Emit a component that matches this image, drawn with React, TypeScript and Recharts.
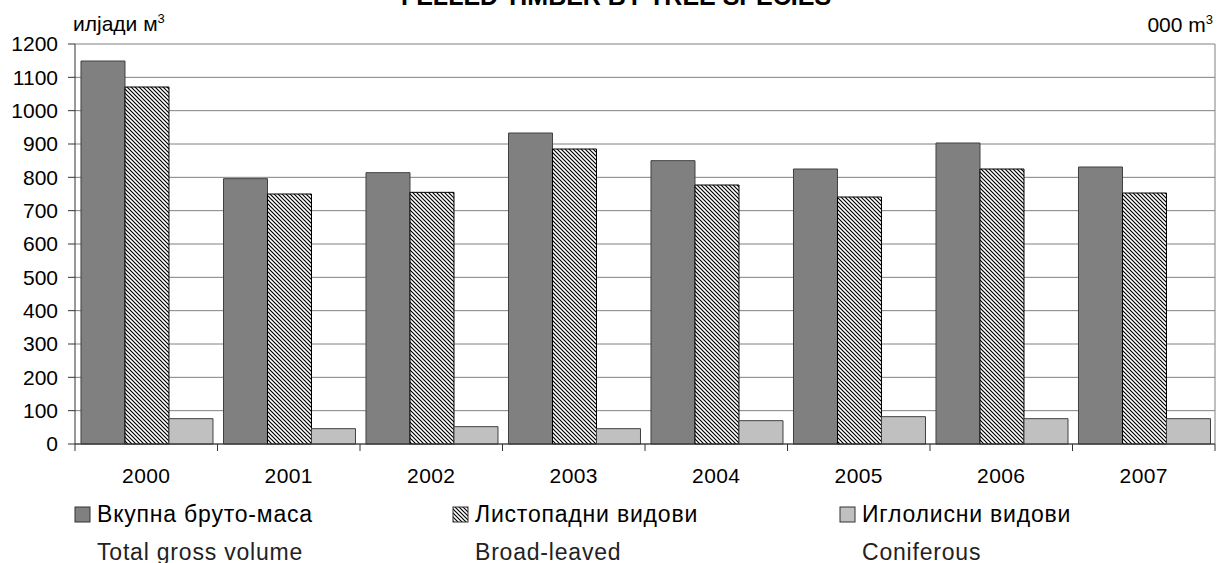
import React from 'react';
import { BarChart, Bar, XAxis, YAxis, CartesianGrid } from 'recharts';

const years = ['2000', '2001', '2002', '2003', '2004', '2005', '2006', '2007'];
const totalGross = [1149, 796, 814, 933, 850, 825, 903, 831];
const broadLeaved = [1071, 750, 755, 885, 777, 741, 825, 753];
const coniferous = [76, 46, 52, 46, 70, 82, 76, 76];
const yTicks = [0, 100, 200, 300, 400, 500, 600, 700, 800, 900, 1000, 1100, 1200];
const legendMk = ['Вкупна бруто-маса', 'Листопадни видови', 'Иглолисни видови'];
const legendEn = ['Total gross volume', 'Broad-leaved', 'Coniferous'];
const title = 'FELLED TIMBER BY TREE SPECIES';
const unitMk = 'илјади м';
const unitEn = '000 m';

const data = years.map((y, i) => ({
  year: y,
  total: totalGross[i],
  broad: broadLeaved[i],
  conif: coniferous[i],
}));

const W = 1219;
const H = 563;
const ML = 75;
const MR = 4;
const MT = 44;
const XH = 40;
const MB = 563 - 444 - XH;
const FONT = '"Liberation Sans", Arial, Helvetica, sans-serif';
const band = (W - ML - MR) / years.length;

const XTick = (props: any) => {
  const { x, y, payload, index } = props;
  const last = index === years.length - 1;
  return (
    <g>
      <line x1={x - band / 2} x2={x - band / 2} y1={y} y2={y + 7} stroke="#333" strokeWidth={1} />
      {last && <line x1={x + band / 2} x2={x + band / 2} y1={y} y2={y + 7} stroke="#333" strokeWidth={1} />}
      <text x={x} y={y + 39} textAnchor="middle" fontSize={21} fill="#000" fontFamily={FONT} letterSpacing={0.4}>
        {payload.value}
      </text>
    </g>
  );
};

const fills = ['#808080', 'url(#hatchLegend)', '#c0c0c0'];
const squareX = [75, 453, 840];

export default function App() {
  return (
    <div style={{ position: 'absolute', left: 0, top: 0, width: W, height: H, fontFamily: FONT }}>
      <BarChart
        width={W}
        height={H}
        data={data}
        margin={{ top: MT, right: MR, left: 0, bottom: MB }}
        barCategoryGap="4.2%"
        barGap={0}
      >
        <defs>
          <pattern id="hatch" patternUnits="userSpaceOnUse" width={4} height={4}>
            <rect x={0} y={0} width={4} height={4} fill="#fff" />
            <path d="M-1,-1 L5,5 M-1,3 L1,5 M3,-1 L5,1" stroke="#000" strokeWidth={1.2} />
          </pattern>
        </defs>
        <CartesianGrid
          stroke="#808080"
          strokeWidth={1}
          vertical={true}
          verticalCoordinatesGenerator={(p: any) => [p.offset.left + p.offset.width]}
        />
        <XAxis
          dataKey="year"
          height={XH}
          tickSize={0}
          tickMargin={0}
          tickLine={false}
          axisLine={{ stroke: '#333' }}
          tick={<XTick />}
          interval={0}
        />
        <YAxis
          width={ML}
          domain={[0, 1200]}
          ticks={yTicks}
          interval={0}
          tickSize={7}
          tickMargin={10}
          axisLine={{ stroke: '#333' }}
          tickLine={{ stroke: '#333' }}
          tick={{ fill: '#000', fontSize: 21, fontFamily: FONT }}
        />
        <Bar dataKey="total" fill="#808080" stroke="#404040" strokeWidth={1} isAnimationActive={false} />
        <Bar dataKey="broad" fill="url(#hatch)" stroke="#000" strokeWidth={1} isAnimationActive={false} />
        <Bar dataKey="conif" fill="#c0c0c0" stroke="#404040" strokeWidth={1} isAnimationActive={false} />
      </BarChart>
      <svg
        width={W}
        height={H}
        style={{ position: 'absolute', left: 0, top: 0, pointerEvents: 'none' }}
        fontFamily={FONT}
      >
        <defs>
          <pattern id="hatchLegend" patternUnits="userSpaceOnUse" width={4} height={4}>
            <rect x={0} y={0} width={4} height={4} fill="#fff" />
            <path d="M-1,-1 L5,5 M-1,3 L1,5 M3,-1 L5,1" stroke="#000" strokeWidth={1.2} />
          </pattern>
        </defs>
        <text x={616} y={5} textAnchor="middle" fontSize={25} fontWeight="bold" fill="#000">
          {title}
        </text>
        <text x={73} y={31} fontSize={21} fill="#000">
          {unitMk}
          <tspan fontSize={13} dy={-8}>3</tspan>
        </text>
        <text x={1213} y={32} fontSize={21} fill="#000" textAnchor="end">
          {unitEn}
          <tspan fontSize={13} dy={-8}>3</tspan>
        </text>
        {legendMk.map((label, i) => (
          <g key={label}>
            <rect x={squareX[i]} y={507} width={15} height={15} fill={fills[i]} stroke="#333" strokeWidth={1} />
            <text x={squareX[i] + 22} y={521.5} fontSize={23} letterSpacing={0.8} fill="#000">
              {label}
            </text>
            <text x={squareX[i] + 22} y={560} fontSize={23} letterSpacing={0.8} fill="#222">
              {legendEn[i]}
            </text>
          </g>
        ))}
      </svg>
    </div>
  );
}
